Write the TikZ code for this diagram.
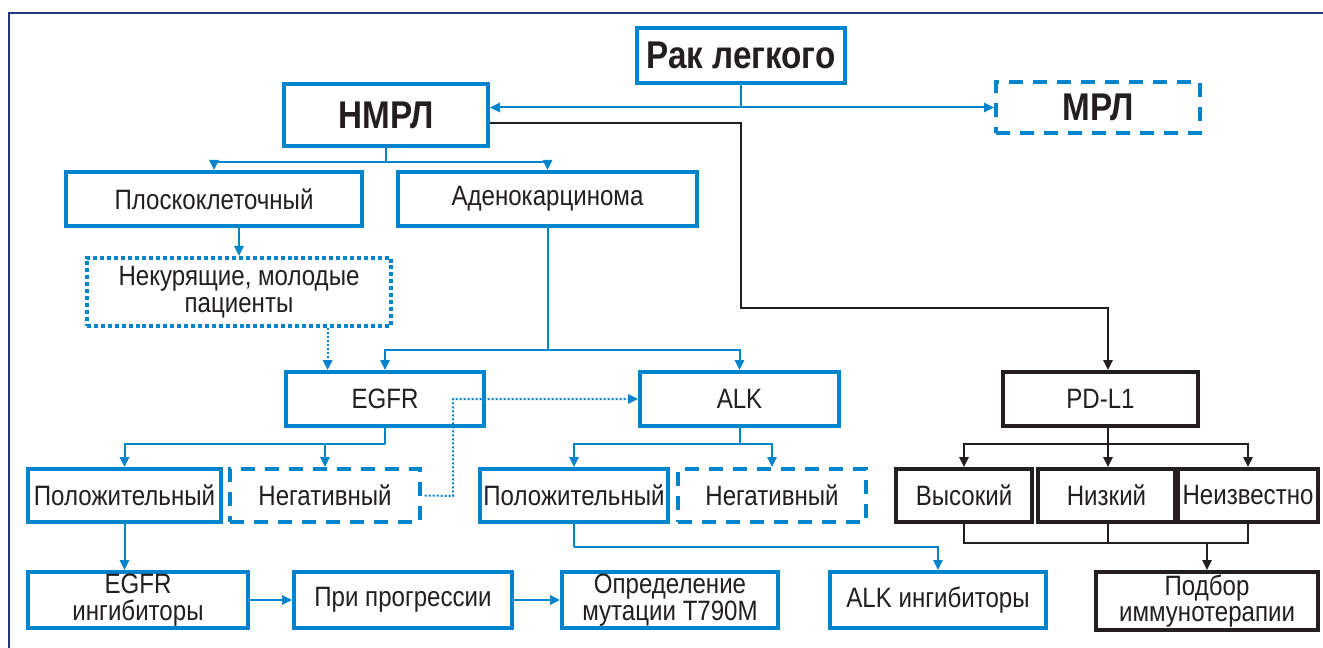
\documentclass[tikz,border=0pt]{standalone}
\usepackage{fontspec}
\setmainfont{Liberation Sans}[FakeStretch=0.86]
\usetikzlibrary{arrows.meta}
\definecolor{bl}{RGB}{0,132,204}
\definecolor{navy}{RGB}{32,58,135}
\definecolor{ink}{RGB}{35,31,32}
\tikzset{
  x=0.75pt, y=-0.75pt,
  bx/.style={draw=bl, line width=3pt, fill=white, inner sep=0pt, align=center, text=ink,
    font=\fontsize{21}{20}\selectfont},
  bxk/.style={bx, draw=ink},
  bxdash/.style={bx, dash pattern=on 10.5pt off 7.5pt},
  bxdot/.style={bx, dash pattern=on 3pt off 2.2pt},
  big/.style={font=\fontsize{29}{30}\selectfont\bfseries},
  cb/.style={draw=bl, line width=1.5pt},
  ck/.style={draw=ink, line width=1.5pt},
  cbd/.style={cb, dash pattern=on 1.5pt off 1.5pt},
  tip/.style={-{Triangle[length=7.5pt,width=7pt]}},
}
\begin{document}
\begin{tikzpicture}
\useasboundingbox (0,0) rectangle (1323,648);
\fill[white] (0,0) rectangle (1323,648);
\draw[navy, line width=1.6pt] (9,648) -- (9,13) -- (1323,13);

% nodes
\node[bx,big, minimum width=208*0.75pt, minimum height=55*0.75pt] (rak) at (741,55.5) {Рак легкого};
\node[bx,big, minimum width=204*0.75pt, minimum height=62*0.75pt] (nmrl) at (386,115) {НМРЛ};
\node[bxdash,big, minimum width=204*0.75pt, minimum height=51*0.75pt] (mrl) at (1098,107.5) {МРЛ};
\node[bx, minimum width=296*0.75pt, minimum height=54*0.75pt] (plosko) at (214,199) {Плоскоклеточный};
\node[bx, minimum width=299*0.75pt, minimum height=54*0.75pt] (adeno) at (547.5,199) {Аденокарцинома};
\node[bxdot, minimum width=304*0.75pt, minimum height=68*0.75pt] (nekur) at (239,292) {Некурящие, молодые\\пациенты};
\node[bx, minimum width=198*0.75pt, minimum height=54*0.75pt] (egfr) at (385,399) {EGFR};
\node[bx, minimum width=199*0.75pt, minimum height=54*0.75pt] (alk) at (739.5,399) {ALK};
\node[bxk, minimum width=195*0.75pt, minimum height=54*0.75pt] (pdl1) at (1100.5,399) {PD-L1};
\node[bx, minimum width=193*0.75pt, minimum height=53*0.75pt] (pol1) at (124.5,495.5) {Положительный};
\node[bxdash, minimum width=190*0.75pt, minimum height=53*0.75pt] (neg1) at (325,495.5) {Негативный};
\node[bx, minimum width=188*0.75pt, minimum height=53*0.75pt] (pol2) at (574,495.5) {Положительный};
\node[bxdash, minimum width=188*0.75pt, minimum height=53*0.75pt] (neg2) at (772,495.5) {Негативный};
\node[bxk, minimum width=136*0.75pt, minimum height=53*0.75pt] (vys) at (964,495.5) {Высокий};
\node[bxk, minimum width=137*0.75pt, minimum height=53*0.75pt] (niz) at (1106.5,495.5) {Низкий};
\node[bxk, minimum width=140*0.75pt, minimum height=53*0.75pt] (neiz) at (1248,495.5) {Неизвестно};
\node[bx, minimum width=220*0.75pt, minimum height=56*0.75pt] (einh) at (138,600) {EGFR\\ингибиторы};
\node[bx, minimum width=218*0.75pt, minimum height=56*0.75pt] (prog) at (403,600) {При прогрессии};
\node[bx, minimum width=216*0.75pt, minimum height=56*0.75pt] (opr) at (670,600) {Определение\\мутации Т790М};
\node[bx, minimum width=216*0.75pt, minimum height=56*0.75pt] (alki) at (938,600) {ALK ингибиторы};
\node[bxk, minimum width=222*0.75pt, minimum height=58*0.75pt] (podb) at (1207,601) {Подбор\\иммунотерапии};

% connectors
\draw[cb] (rak.south) -- (rak.south |- mrl.west) coordinate (j1);
\draw[cb, {Triangle[length=7.5pt,width=7pt]}-{Triangle[length=7.5pt,width=7pt]}] (nmrl.east |- j1) -- (mrl.west |- j1);
\coordinate (k1) at (741,308);
\coordinate (k2) at (1108,308);
\draw[ck, tip] ([yshift=-6pt]nmrl.east) -| (k1) -- (k2) -- (k2 |- pdl1.north);

\draw[cb] (nmrl.south) -- ++(0,14) coordinate (j2);
\draw[cb, tip] (j2) -| (plosko.north);
\draw[cb, tip] (j2) -| (adeno.north);
\draw[cb, tip] (nekur.north |- plosko.south) -- (nekur.north);
\coordinate (d1) at ([xshift=-43pt]egfr.north);
\draw[cbd, tip] (d1 |- nekur.south) -- (d1);
\draw[cb] (adeno.south) -- ++(0,122) coordinate (j3);
\draw[cb, tip] (j3) -| (egfr.north);
\draw[cb, tip] (j3) -| (alk.north);

\draw[cb] (egfr.south) -- ++(0,16) coordinate (j4);
\draw[cb, tip] (j4) -| (pol1.north);
\draw[cb, tip] (j4) -| (neg1.north);
\draw[cb] (alk.south) -- ++(0,16) coordinate (j5);
\draw[cb, tip] (j5) -| (pol2.north);
\draw[cb, tip] (j5) -| (neg2.north);
\coordinate (d2) at (453,496);
\draw[cbd, tip] ([xshift=2pt]neg1.east) -- (d2) |- (alk.west);

\draw[ck] (k2 |- pdl1.south) -- ++(0,16) coordinate (j6);
\draw[ck, tip] (j6) -| (vys.north);
\draw[ck, tip] (j6) -- (j6 |- niz.north);
\draw[ck, tip] (j6) -| (neiz.north);
\coordinate (j7) at (1108,543);
\draw[ck] (vys.south) |- (j7);
\draw[ck] (neiz.south) |- (j7);
\draw[ck] (j7 |- niz.south) -- (j7);
\draw[ck, tip] (podb.north |- j7) -- (podb.north);

\draw[cb, tip] (pol1.south) -- (pol1.south |- einh.north);
\draw[cb] (pol2.south) -- ++(0,23) coordinate (j8);
\draw[cb, tip] (j8) -| (alki.north);
\draw[cb, tip] (einh.east) -- (prog.west);
\draw[cb, tip] (prog.east) -- (opr.west);
\end{tikzpicture}
\end{document}
